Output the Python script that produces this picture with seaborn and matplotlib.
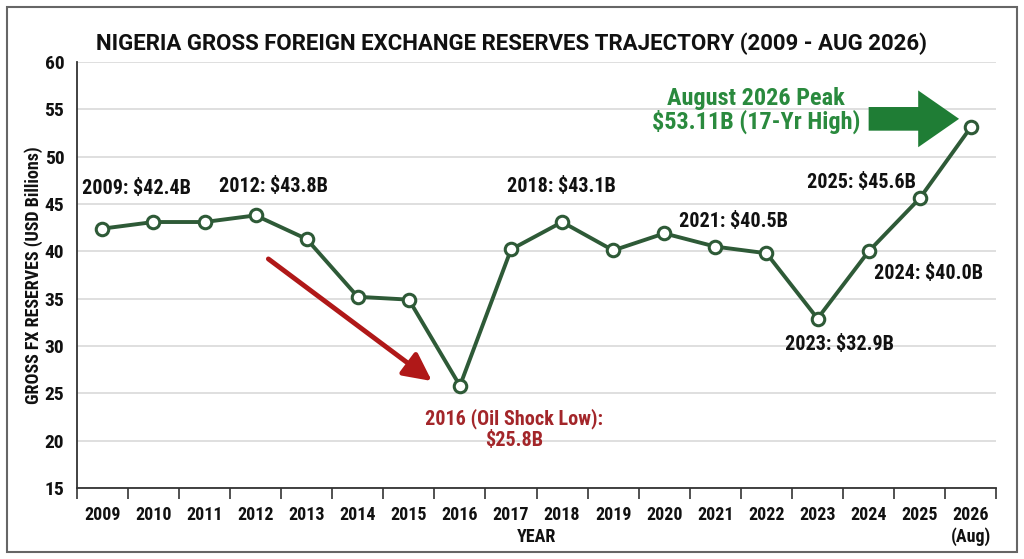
import matplotlib
matplotlib.use("Agg")
import matplotlib.pyplot as plt
import matplotlib.font_manager as fm
import seaborn as sns
import pandas as pd
from matplotlib.patches import FancyArrow, Rectangle
from matplotlib.ticker import FixedLocator

years = ["2009", "2010", "2011", "2012", "2013", "2014", "2015", "2016", "2017",
         "2018", "2019", "2020", "2021", "2022", "2023", "2024", "2025", "2026\n(Aug)"]
reserves = [42.4, 43.1, 43.1, 43.8, 41.3, 35.2, 34.9, 25.8, 40.2,
            43.1, 40.1, 41.9, 40.5, 39.8, 32.9, 40.0, 45.6, 53.11]

label_texts = ["2009: $42.4B", "2012: $43.8B", "2018: $43.1B", "2021: $40.5B",
               "2025: $45.6B", "2024: $40.0B", "2023: $32.9B"]
label_pos = [(0.67, 46.6), (3.35, 46.9), (8.98, 46.9), (12.35, 43.2),
             (14.86, 47.3), (16.17, 37.7), (14.43, 30.2)]


def pick_font(cands, fallback):
    avail = {}
    for f in fm.fontManager.ttflist:
        w = f.weight
        try:
            w = int(w)
        except (TypeError, ValueError):
            w = 700 if str(w).lower() == "bold" else 400
        avail.setdefault(f.name, set()).add(w)
    for c in cands:
        if c in avail and any(w >= 700 for w in avail[c]):
            return c
    return fallback


COND = pick_font(["Roboto Condensed", "Arial Narrow", "Liberation Sans Narrow",
                  "PT Sans Narrow", "Asap Condensed", "Encode Sans Condensed",
                  "Barlow Semi Condensed", "IBM Plex Sans Condensed", "Archivo Narrow"],
                 "Liberation Sans")
MAIN = pick_font(["Roboto", "Liberation Sans", "Arimo"], "DejaVu Sans")
NARROW = [COND, "DejaVu Sans"]

sns.set_theme(style="white")
plt.rcParams["font.family"] = [MAIN, "DejaVu Sans"]
plt.rcParams["text.color"] = "#111111"
plt.rcParams["axes.labelcolor"] = "#111111"
plt.rcParams["xtick.color"] = "#111111"
plt.rcParams["ytick.color"] = "#111111"

GREEN = "#2e5a37"
BRIGHT_GREEN = "#1f7d35"
TEXT_GREEN = "#2a8a3e"
RED = "#b01818"
TEXT_RED = "#a3262a"

df = pd.DataFrame({"year": years, "reserves": reserves})

fig = plt.figure(figsize=(10.24, 5.59), dpi=100)
ax = fig.add_axes([0.075, 0.127, 0.898, 0.762])

sns.lineplot(data=df, x="year", y="reserves", sort=False, ax=ax, color=GREEN,
             linewidth=2.8, marker="o", markersize=9, markerfacecolor="white",
             markeredgecolor=GREEN, markeredgewidth=2.2, zorder=3)

ax.set_xlim(-0.5, len(years) - 0.5)
ax.set_ylim(15, 60)
ax.set_yticks(range(15, 61, 5))
ax.yaxis.grid(True, color="#d9d9d9", linewidth=1.2)
ax.set_axisbelow(True)
for s in ["top", "right"]:
    ax.spines[s].set_visible(False)
for s in ["left", "bottom"]:
    ax.spines[s].set_color("#333333")
    ax.spines[s].set_linewidth(1.3)

ax.set_xticks(range(len(years)))
ax.set_xticklabels(years, fontweight="bold", fontsize=13, family=NARROW, linespacing=1.2)
ax.xaxis.set_minor_locator(FixedLocator([i - 0.5 for i in range(len(years) + 1)]))
ax.tick_params(axis="x", which="major", length=0, pad=13)
ax.tick_params(axis="x", which="minor", length=8, width=1.2, color="#333333", direction="out", bottom=True)
ax.tick_params(axis="y", length=0, pad=9)
for t in ax.get_yticklabels():
    t.set_fontweight("bold")
    t.set_fontsize(14)
    t.set_family(NARROW)

ax.set_xlabel("YEAR", fontweight="bold", fontsize=13, family=NARROW)
ax.xaxis.set_label_coords(0.5, -0.115)
ax.xaxis.label.set_va("center")
ax.set_ylabel("GROSS FX RESERVES (USD Billions)", fontweight="bold", fontsize=13,
              family=NARROW)
ax.yaxis.set_label_coords(-0.047, 0.5)
ax.yaxis.label.set_va("center")

fig.suptitle("NIGERIA GROSS FOREIGN EXCHANGE RESERVES TRAJECTORY (2009 - AUG 2026)",
             fontweight="bold", fontsize=16, y=0.942, family=[MAIN, "DejaVu Sans"],
             color="#111111")

for txt, (x, y) in zip(label_texts, label_pos):
    ax.text(x, y, txt, ha="center", va="center", fontsize=14.5, fontweight="bold",
            family=NARROW, color="#111111")

ax.text(8.06, 21.2, "2016 (Oil Shock Low):\n$25.8B", ha="center", va="center",
        fontsize=14.5, fontweight="bold", family=NARROW, color=TEXT_RED, linespacing=1.1)

ax.text(12.8, 54.9, "August 2026 Peak\n$53.11B (17-Yr High)", ha="center", va="center",
        fontsize=17.5, fontweight="bold", family=NARROW, color=TEXT_GREEN, linespacing=1.0)

# red arrow
ax.annotate("", xy=(6.45, 26.3), xytext=(3.25, 39.2),
            arrowprops=dict(arrowstyle="-|>,head_length=1.4,head_width=0.7",
                            color=RED, lw=3.5, shrinkA=0, shrinkB=0))

# green block arrow
ax.add_patch(FancyArrow(15.0, 54.0, 1.77, 0, width=2.5, head_width=6.0,
                        head_length=0.8, length_includes_head=True,
                        color=BRIGHT_GREEN, zorder=4, linewidth=0))

fig.patches.append(Rectangle((0.007, 0.012), 0.986, 0.976, transform=fig.transFigure,
                             fill=False, edgecolor="#666666", linewidth=1.5))

fig.savefig("out.png", dpi=100)
